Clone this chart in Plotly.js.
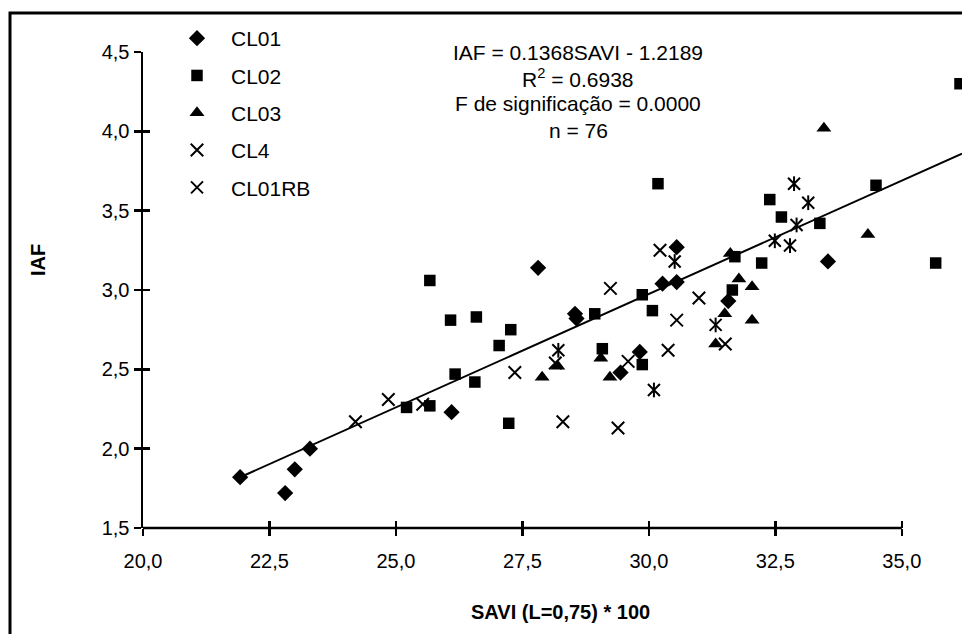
<!DOCTYPE html>
<html>
<head>
<meta charset="utf-8">
<script src="https://cdn.plot.ly/plotly-3.0.1.min.js"></script>
<style>html,body{margin:0;padding:0;background:#fff;}#chart{width:962px;height:634px;}</style>
</head>
<body>
<div id="chart"></div>
<script>
// ---- data ----
var cl01X = [21.92, 22.81, 23.00, 23.30, 26.10, 27.81, 28.54, 28.57, 29.44, 29.82, 30.27, 30.55, 30.55, 31.57, 33.54];
var cl01Y = [1.82, 1.72, 1.87, 2.00, 2.23, 3.14, 2.85, 2.82, 2.48, 2.61, 3.04, 3.05, 3.27, 2.93, 3.18];

var cl02X = [25.21, 25.67, 25.67, 26.08, 26.17, 26.56, 26.59, 27.04, 27.23, 27.27, 28.93, 29.08, 29.87, 29.87, 30.07, 30.18, 31.65, 31.70, 32.23, 32.39, 32.62, 33.38, 34.49, 35.67, 36.15];
var cl02Y = [2.26, 2.27, 3.06, 2.81, 2.47, 2.42, 2.83, 2.65, 2.16, 2.75, 2.85, 2.63, 2.53, 2.97, 2.87, 3.67, 3.00, 3.21, 3.17, 3.57, 3.46, 3.42, 3.66, 3.17, 4.30];

var cl03X = [27.89, 28.20, 29.05, 29.23, 31.32, 31.50, 31.61, 31.78, 32.04, 32.04, 33.46, 34.33];
var cl03Y = [2.45, 2.52, 2.57, 2.45, 2.66, 2.85, 3.23, 3.07, 3.02, 2.81, 4.02, 3.35];

var cl4X = [24.20, 24.85, 25.53, 27.35, 28.15, 28.30, 29.24, 29.39, 29.59, 30.22, 30.38, 30.55, 30.99, 31.51];
var cl4Y = [2.17, 2.31, 2.28, 2.48, 2.54, 2.17, 3.01, 2.13, 2.55, 3.25, 2.62, 2.81, 2.95, 2.66];

var cl01rbX = [28.21, 30.10, 30.51, 31.32, 32.49, 32.79, 32.87, 32.92, 33.15];
var cl01rbY = [2.62, 2.37, 3.18, 2.78, 3.31, 3.28, 3.67, 3.41, 3.55];

var trendX = [21.92, 36.19];
var trendY = [1.82, 3.86];

var seriesNames = ['CL01', 'CL02', 'CL03', 'CL4', 'CL01RB'];
var xTicks = [20, 22.5, 25, 27.5, 30, 32.5, 35];
var yTicks = [1.5, 2.0, 2.5, 3.0, 3.5, 4.0, 4.5];
var xRange = [20, 36.19];
var yRange = [1.5, 4.5];

var statLines = ['IAF = 0.1368SAVI - 1.2189', 'R<sup>2</sup> = 0.6938', 'F de significação = 0.0000', 'n = 76'];
var xTitle = '<b>SAVI (L=0,75) * 100</b>';
var yTitle = '<b>IAF</b>';

// ---- drawing ----
var FONT = 'Liberation Sans, Arial, sans-serif';
var FS = 21;
var FT = 20;
var black = '#000000';

var traces = [
  {x: trendX, y: trendY, mode: 'lines', line: {color: black, width: 2}, showlegend: false, hoverinfo: 'skip'},
  {x: cl01X, y: cl01Y, name: seriesNames[0], legendgroup: 'g1', mode: 'markers', cliponaxis: false,
   marker: {symbol: 'diamond', size: 12.5, color: black}},
  {x: cl02X, y: cl02Y, name: seriesNames[1], legendgroup: 'g2', mode: 'markers', cliponaxis: false,
   marker: {symbol: 'square', size: 11.5, color: black}},
  {x: cl03X, y: cl03Y, name: seriesNames[2], legendgroup: 'g3', mode: 'markers', cliponaxis: false,
   marker: {symbol: 'triangle-up', size: 13, color: black}},
  {x: cl4X, y: cl4Y, name: seriesNames[3], legendgroup: 'g4', mode: 'markers', cliponaxis: false,
   marker: {symbol: 'x-thin-open', size: 12.5, color: black, line: {color: black, width: 2}}},
  {x: cl01rbX, y: cl01rbY, name: seriesNames[4], legendgroup: 'g5', mode: 'markers', cliponaxis: false,
   marker: {symbol: 'x-thin-open', size: 12, color: black, line: {color: black, width: 2}}},
  // vertical stroke of the star marker, drawn on the overlay axes (same ranges)
  {x: cl01rbX, y: cl01rbY, name: seriesNames[4], legendgroup: 'g5', showlegend: false, mode: 'markers', cliponaxis: false,
   xaxis: 'x2', yaxis: 'y2',
   marker: {symbol: 'line-ns-open', size: 10.5, color: black, line: {color: black, width: 2}}}
];

var L = 143, R = 0, T = 52, B = 106;
var W = 962, H = 634;
var pw = W - L - R, ph = H - T - B;
function px2paperX(p) { return (p - L) / pw; }
function px2paperY(p) { return (H - B - p) / ph; }

var statY = [52, 78, 104, 130];
var annotations = statLines.map(function (t, i) {
  return {text: t, xref: 'paper', yref: 'paper', x: px2paperX(578), y: px2paperY(statY[i]),
          xanchor: 'center', yanchor: 'middle', showarrow: false, font: {family: FONT, size: FS, color: black}};
});
annotations.push({text: xTitle, xref: 'paper', yref: 'paper', x: px2paperX(560), y: px2paperY(612),
  xanchor: 'center', yanchor: 'middle', showarrow: false, font: {family: FONT, size: FT, color: black}});
annotations.push({text: yTitle, xref: 'paper', yref: 'paper', x: px2paperX(38), y: px2paperY(260),
  xanchor: 'center', yanchor: 'middle', textangle: -90, showarrow: false, font: {family: FONT, size: FT, color: black}});

var axisCommon = {showgrid: false, zeroline: false, tickcolor: black, tickwidth: 2.5, ticklen: 7,
  tickfont: {family: FONT, size: FT, color: black}};

var layout = {
  width: W, height: H,
  margin: {l: L, r: R, t: T, b: B, pad: 0},
  paper_bgcolor: '#ffffff', plot_bgcolor: 'rgba(0,0,0,0)',
  font: {family: FONT, size: FS, color: black},
  separators: ',.',
  showlegend: true,
  legend: {x: px2paperX(163), y: px2paperY(18), xanchor: 'left', yanchor: 'top',
    font: {family: FONT, size: FS, color: black}, bgcolor: 'rgba(0,0,0,0)', borderwidth: 0,
    tracegroupgap: 7, itemwidth: 58},
  xaxis: Object.assign({}, axisCommon, {range: xRange, tickmode: 'array', tickvals: xTicks, tickformat: '.1f',
    ticks: 'outside', showline: false, ticklabelstandoff: 8}),
  yaxis: Object.assign({}, axisCommon, {range: yRange, tickmode: 'array', tickvals: yTicks, tickformat: '.1f',
    ticks: 'outside', showline: true, linecolor: black, linewidth: 2.5}),
  xaxis2: Object.assign({}, axisCommon, {overlaying: 'x', range: xRange, tickmode: 'array', tickvals: xTicks,
    ticks: 'inside', showticklabels: false, showline: false, side: 'bottom'}),
  yaxis2: Object.assign({}, axisCommon, {overlaying: 'y', range: yRange, tickmode: 'array', tickvals: yTicks,
    ticks: 'inside', showticklabels: false, showline: false, side: 'left'}),
  shapes: [
    {type: 'line', xref: 'x', yref: 'paper', x0: xTicks[0], x1: xTicks[xTicks.length - 1], y0: 0, y1: 0,
     line: {color: black, width: 2.5}},
    {type: 'rect', xref: 'paper', yref: 'paper', x0: px2paperX(10), x1: px2paperX(1000), y0: px2paperY(680), y1: px2paperY(13),
     line: {color: black, width: 3}, fillcolor: 'rgba(0,0,0,0)'}
  ],
  annotations: annotations
};

Plotly.newPlot('chart', traces, layout, {displayModeBar: false, staticPlot: true});
</script>
</body>
</html>
